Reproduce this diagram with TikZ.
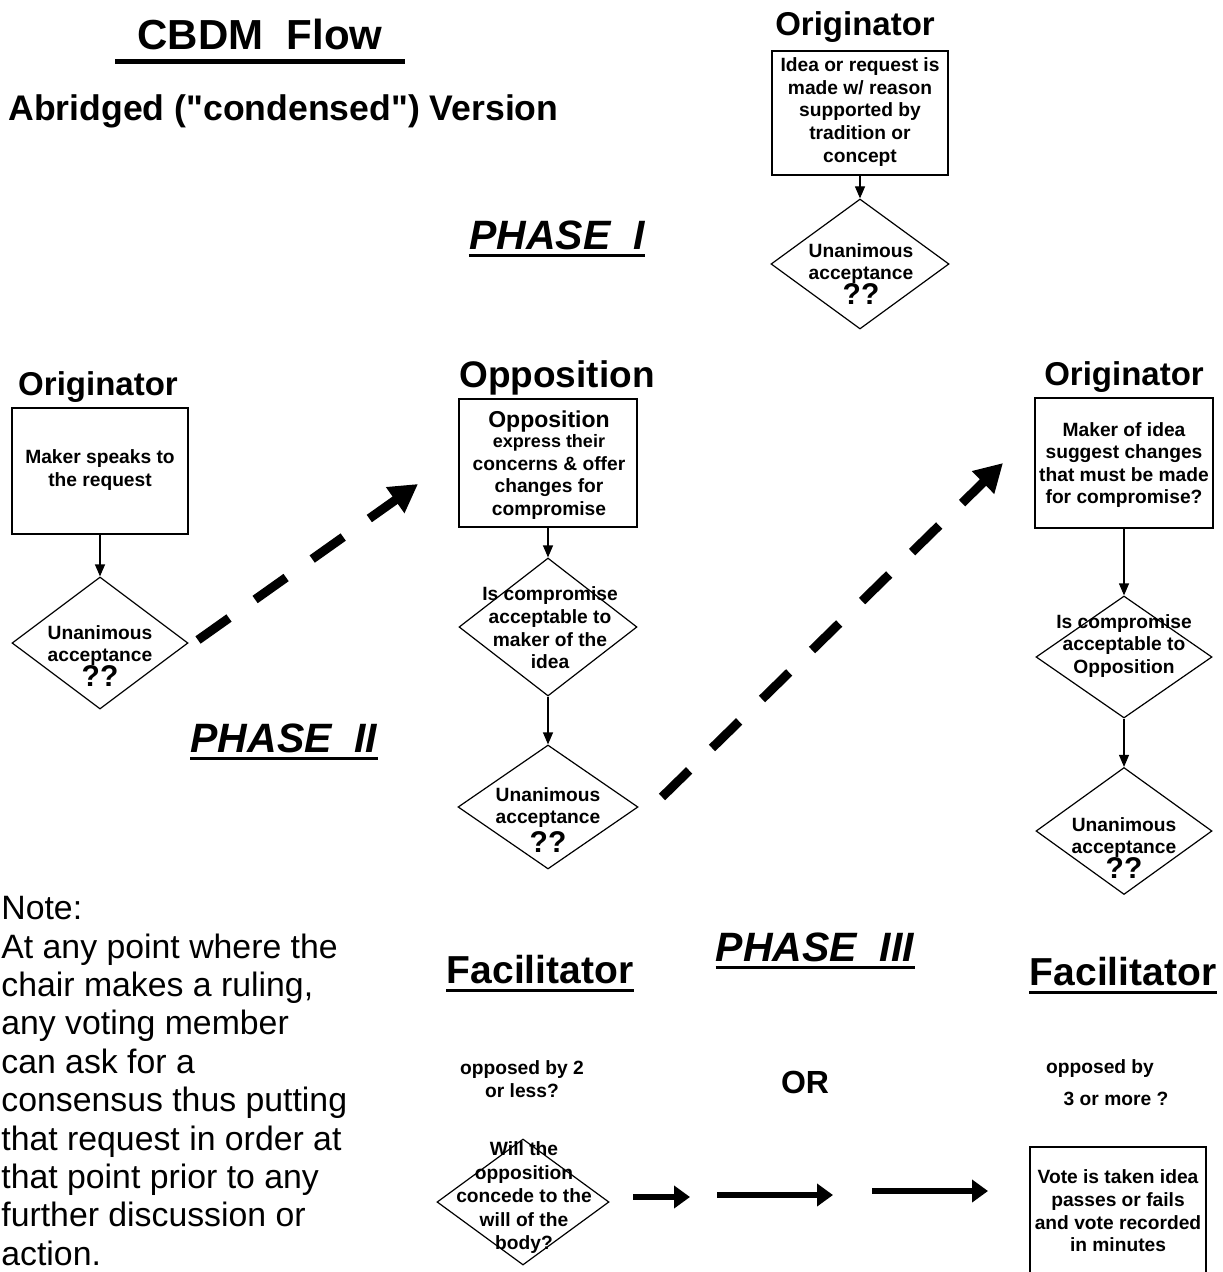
\documentclass[tikz,border=0pt]{standalone}
\usepackage{fontspec}
\setmainfont{Liberation Sans}
\newfontfamily\qfont{Liberation Sans}[Ligatures=ResetAll]
\usetikzlibrary{arrows.meta,shapes.geometric}
\newcommand\fsz[2]{\fontsize{#1}{#2}\selectfont}
\newcommand\sq{{\qfont\bfseries"}}
\begin{document}
\begin{tikzpicture}[x=0.5pt,y=-0.5pt,
  every node/.style={inner sep=0pt},
  boxwh/.style 2 args={draw, line width=0.75pt, minimum width=#1*0.5pt, minimum height=#2*0.5pt},
  diawh/.style 2 args={draw, shape=diamond, line width=0.6pt, minimum width=#1*0.5pt, minimum height=#2*0.5pt},
  btxt/.style={font=\bfseries\fsz{9.6}{11.3}, align=center},
  orig/.style={font=\bfseries\fsz{16.5}{18}, anchor=base},
  opphead/.style={font=\bfseries\fsz{18.5}{20}, anchor=base},
  fachead/.style={font=\bfseries\fsz{19.5}{21}, anchor=base},
  phase/.style={font=\bfseries\itshape\fsz{20.5}{22}, anchor=base},
  uline/.style={line width=1.5pt},
  conn/.style={line width=0.6pt, -{Triangle[width=5pt,length=6pt]}},
  bigdash/.style={line width=4.5pt, dash pattern=on 19pt off 16pt, -{Triangle[width=15pt,length=14pt]}},
  harrow/.style={line width=3pt, -{Triangle[width=11pt,length=8pt]}}
]
\path[use as bounding box] (0,0) rectangle (1222,1272);
\clip (0,0) rectangle (1222,1272);
\fill[white] (0,0) rectangle (1222,1272);

% title
\node[font=\bfseries\fsz{21}{24}, anchor=base] (title) at (260,50) {CBDM~\ Flow};
\draw[line width=2.5pt] ([xshift=-11pt,yshift=-6pt]title.base west) -- ([xshift=11pt,yshift=-6pt]title.base east);
\node[font=\bfseries\fsz{17.8}{20}, anchor=base west] (subtitle) at (8,121) {Abridged (\sq condensed\sq) Version};

% Phase I
\node[orig] (o1h) at (855,36) {Originator};
\node[boxwh={176}{124}] (o1b) at (860,113) {};
\node[btxt] (o1t) at (860,112) {Idea or request is\\made w/ reason\\supported by\\tradition or\\concept};
\node[diawh={178}{130}] (o1d) at (860,264) {};
\node[btxt] (o1dt) at (861,274) {Unanimous\\acceptance\\[-1pt]{\fsz{15}{15}??}};
\draw[conn] (o1b.south) -- (o1d.north);
\node[phase] (ph1) at (557,250) {PHASE~\ I};
\draw[uline] ([yshift=-3pt]ph1.base west) -- ([yshift=-3pt]ph1.base east);

% Phase II left
\node[orig] (o2h) at (98,395) {Originator};
\node[boxwh={176}{126}] (o2b) at (100,471) {};
\node[btxt] (o2t) at (100,470) {Maker speaks to\\the request};
\node[diawh={176}{132}] (o2d) at (100,643) {};
\node[btxt] (o2dt) at (100,656) {Unanimous\\acceptance\\[-1pt]{\fsz{15}{15}??}};
\draw[conn] (o2b.south) -- (o2d.north);
\coordinate (a1s) at (198,640);
\coordinate (a1e) at (418,484);
\draw[bigdash] (a1s) -- (a1e);
\node[phase] (ph2) at (284,752) {PHASE~\ II};
\draw[uline] ([yshift=-3pt]ph2.base west) -- ([yshift=-3pt]ph2.base east);

% Opposition
\node[opphead] (oph) at (557,388) {Opposition};
\node[boxwh={178}{128}] (opb) at (548,463) {};
\node[btxt] (opt) at (549,465) {{\fsz{11.5}{12}Opposition}\\[-1pt]{\fsz{9}{10}express their}\\concerns \& offer\\changes for\\compromise};
\node[diawh={178}{138}] (opd1) at (548,627) {};
\node[btxt] (opd1t) at (550,628) {Is compromise\\acceptable to\\maker of the\\idea};
\node[diawh={180}{124}] (opd2) at (548,807) {};
\node[btxt] (opd2t) at (548,820) {Unanimous\\acceptance\\[1pt]{\fsz{15}{15}??}};
\draw[conn] (opb.south) -- (opd1.north);
\draw[conn] (opd1.south) -- (opd2.north);
\coordinate (a2s) at (662,797);
\coordinate (a2e) at (1003,463);
\draw[bigdash] (a2s) -- (a2e);

% Originator right
\node[orig] (o3h) at (1124,386) {Originator};
\node[boxwh={178}{130}] (o3b) at (1124,463) {};
\node[btxt] (o3t) at (1124,465) {Maker of idea\\suggest changes\\that must be made\\for compromise?};
\node[diawh={176}{122}] (o3d1) at (1124,657) {};
\node[btxt] (o3d1t) at (1124,646) {Is compromise\\acceptable to\\Opposition};
\node[diawh={176}{127}] (o3d2) at (1124,831) {};
\node[btxt] (o3d2t) at (1124,848) {Unanimous\\acceptance\\[-1pt]{\fsz{15}{15}??}};
\draw[conn] (o3b.south) -- (o3d1.north);
\draw[conn] (o3d1.south) -- (o3d2.north);

% Phase III
\node[phase] (ph3) at (815,961) {PHASE~\ III};
\draw[uline] ([yshift=-3pt]ph3.base west) -- ([yshift=-3pt]ph3.base east);
\node[fachead] (f1h) at (540,983) {Facilitator};
\draw[uline] ([yshift=-3.5pt]f1h.base west) -- ([yshift=-3.5pt]f1h.base east);
\node[fachead] (f2h) at (1123,985) {Facilitator};
\draw[uline] ([yshift=-3.5pt]f2h.base west) -- ([yshift=-3.5pt]f2h.base east);

\node[btxt] (f1q) at (522,1079) {opposed by 2\\or less?};
\node[font=\bfseries\fsz{16}{18}] (or) at (805,1082) {OR};
\node[btxt] (f2q1) at (1100,1069) {opposed by};
\node[btxt] (f2q2) at (1116,1099) {3 or more ?};

\node[diawh={172}{126}] (f1d) at (523,1202) {};
\node[btxt, font=\bfseries\fsz{9.6}{11.75}] (f1dt) at (524,1198) {Will the\\opposition\\concede to the\\will of the\\body?};
\node[boxwh={176}{160}] (f2b) at (1118,1227) {};
\node[btxt] (f2t) at (1118,1211) {Vote is taken idea\\passes or fails\\and vote recorded\\in minutes};

\coordinate (h1s) at (633,1197);
\coordinate (h1e) at (690,1197);
\coordinate (h2s) at (717,1195);
\coordinate (h2e) at (833,1195);
\coordinate (h3s) at (872,1191);
\coordinate (h3e) at (988,1191);
\draw[harrow] (h1s) -- (h1e);
\draw[harrow] (h2s) -- (h2e);
\draw[harrow] (h3s) -- (h3e);

% note
\node[font=\fsz{16.9}{19.2}, align=left, anchor=north west] (note) at (1,896)
 {Note:\\At any point where the\\chair makes a ruling,\\any voting member\\can ask for a\\consensus thus putting\\that request in order at\\that point prior to any\\further discussion or\\action.};
\end{tikzpicture}
\end{document}
